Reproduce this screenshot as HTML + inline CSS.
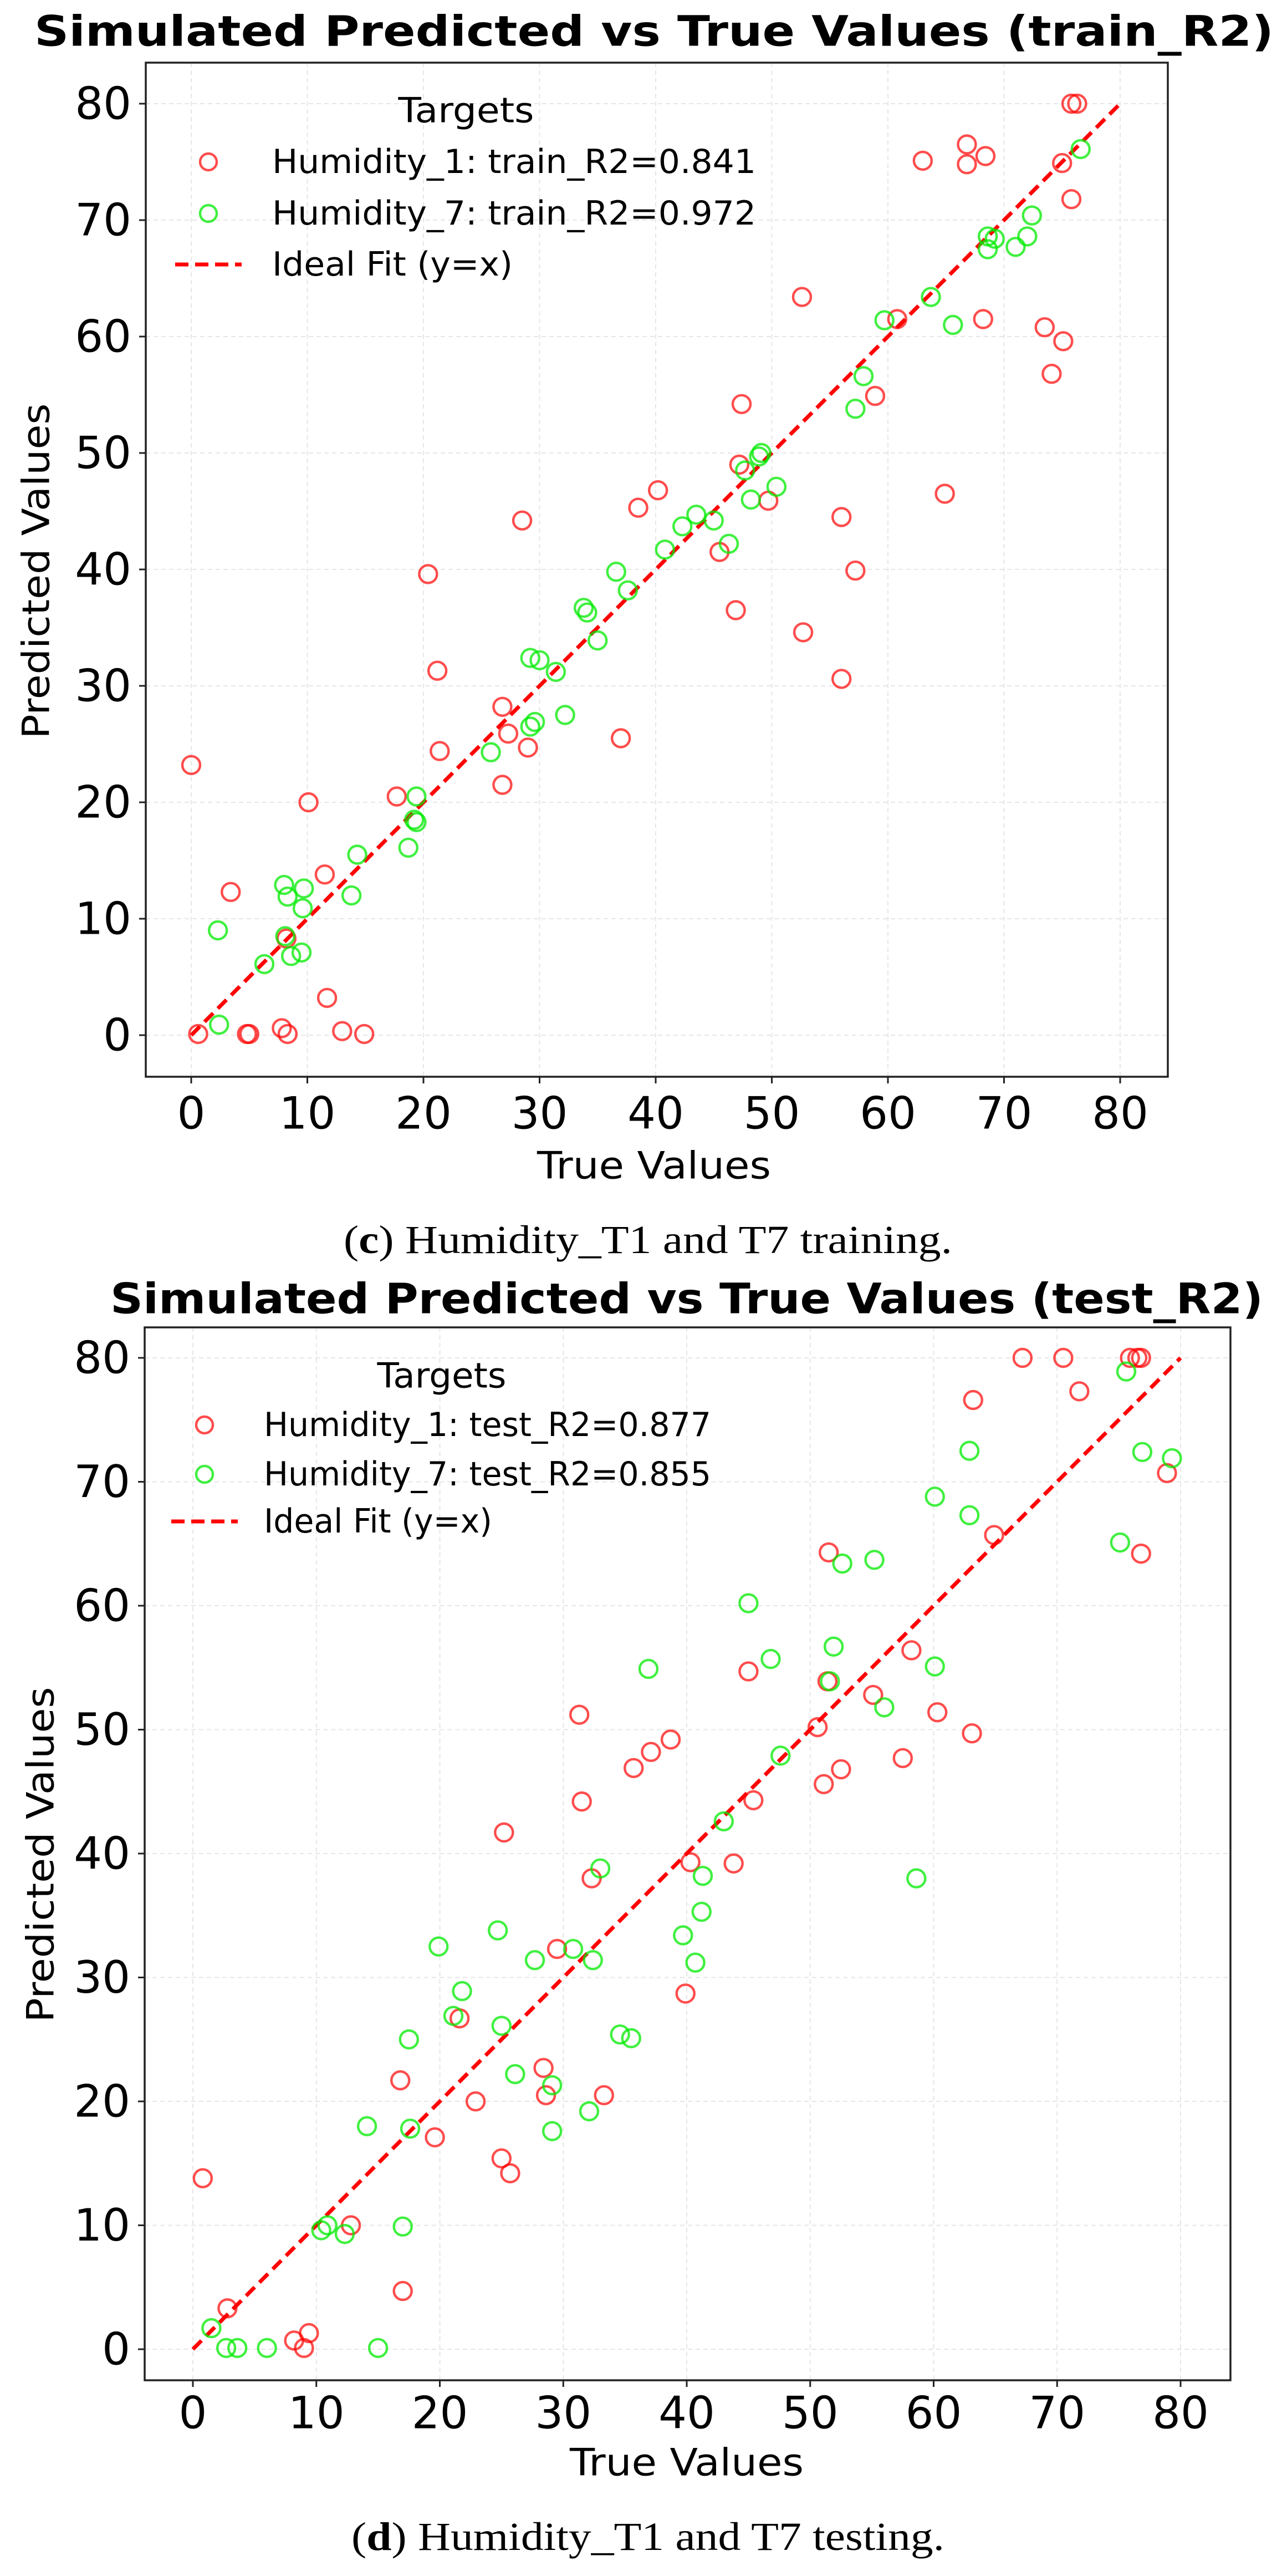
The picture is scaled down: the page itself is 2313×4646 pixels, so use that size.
<!DOCTYPE html>
<html><head><meta charset="utf-8"><style>
html,body{margin:0;padding:0;background:#fff;}
svg{display:block;}
</style></head><body>
<svg id="fig" xmlns="http://www.w3.org/2000/svg" width="2313" height="4646" viewBox="0 0 2313 4646">
<rect x="0" y="0" width="2313" height="4646" fill="#fff"/>
</svg>
<script>
const xTicks=[0,10,20,30,40,50,60,70,80];
const yTicks=[0,10,20,30,40,50,60,70,80];
const trainH1X=[75.8,76.3,63,66.8,66.8,68.4,75,75.8,52.6,68.2,73.5,75.1,74.1,58.9,47.4,60.8,47.2,49.7,45.5,64.9,56,57.2,40.2,38.5,28.5,20.4,46.9,52.7,56,37,21.2,21.4,26.8,26.8,27.3,29,17.7,0,10.1,3.4,11.5,11.7,0.6,4.8,5,7.8,8.3,13,14.9,8.2];
const trainH1Y=[80,80,75.1,76.5,74.8,75.5,74.9,71.8,63.4,61.5,60.8,59.6,56.8,54.9,54.2,61.5,49,45.9,41.5,46.5,44.5,39.9,46.8,45.3,44.2,39.6,36.5,34.6,30.6,25.5,31.3,24.4,28.2,21.5,25.9,24.7,20.5,23.2,20,12.3,13.8,3.2,0.1,0.1,0.1,0.6,0.1,0.35,0.1,8.3];
const trainH7X=[76.6,72.4,72,71,68.6,69.2,68.6,63.7,65.6,59.7,57.9,57.2,49.1,48.9,47.7,50.4,48.2,43.5,45,42.3,46.3,40.8,36.6,37.6,33.8,34.1,35,29.2,30,31.4,32.2,29.6,29.2,25.8,19.4,19.2,19.4,18.7,14.3,13.8,8,8.3,9.7,9.6,8.1,8.6,9.5,6.3,2.3,2.4];
const trainH7Y=[76.1,70.4,68.6,67.7,68.6,68.4,67.5,63.4,61,61.4,56.6,53.8,50,49.7,48.5,47.1,46,44.7,44.2,43.7,42.2,41.7,39.8,38.2,36.7,36.3,33.9,32.4,32.2,31.2,27.5,26.9,26.5,24.3,20.5,18.5,18.3,16.1,15.5,12,12.9,11.9,12.6,10.9,8.5,6.8,7.1,6.1,9,0.9];
const testH1X=[67.2,70.5,75.9,76.5,76.8,71.8,63.2,78.9,76.8,64.9,51.5,58.2,45,60.3,63.1,55.1,57.5,52.5,51.1,50.6,51.4,31.3,38.7,37.1,35.7,31.5,45.4,40.3,43.8,32.3,25.2,29.5,39.9,21.6,28.4,28.6,33.3,22.9,16.8,19.6,25,25.7,0.8,12.8,17,2.8,9.4,8.2,9];
const testH1Y=[80,80,80,80,80,77.3,76.6,70.7,64.2,65.7,64.3,56.4,54.7,51.4,49.7,52.8,47.7,46.8,45.6,50.2,53.9,51.2,49.2,48.2,46.9,44.2,44.3,39.3,39.2,38,41.7,32.3,28.7,26.7,22.7,20.5,20.5,20,21.7,17.1,15.4,14.2,13.8,10,4.7,3.3,1.3,0.7,0.1];
const testH7X=[75.6,62.9,76.9,79.3,60.1,62.9,75.1,55.2,52.6,45,51.9,46.8,60.1,36.9,51.6,56,47.6,43,33,41.3,41.2,39.7,40.7,58.6,19.9,24.7,30.8,27.7,32.4,21.8,21.1,25,34.6,35.5,17.5,26.1,29.1,29.1,32.1,17.6,14.1,10.9,10.4,12.3,17,1.5,2.7,3.6,6,15];
const testH7Y=[78.9,72.5,72.4,71.9,68.8,67.3,65.1,63.7,63.4,60.2,56.7,55.7,55.1,54.9,53.9,51.8,47.9,42.6,38.8,38.2,35.3,33.4,31.2,38,32.5,33.8,32.3,31.4,31.4,28.9,26.9,26.1,25.4,25.1,25,22.2,21.3,17.6,19.2,17.8,18,10,9.6,9.3,9.9,1.7,0.1,0.1,0.1,0.1];
const idealLine=[0,80];

const NS='http://www.w3.org/2000/svg';
const svg=document.getElementById('fig');
function mk(tag,attrs,parent,text){const e=document.createElementNS(NS,tag);for(const k in attrs)e.setAttribute(k,attrs[k]);if(text!==undefined)e.textContent=text;(parent||svg).appendChild(e);return e;}

function chart(cfg){
  const g=mk('g',{});
  
  
  const sx=v=>cfg.x0+(cfg.x80-cfg.x0)*v/80;
  const sy=v=>cfg.y0+(cfg.y80-cfg.y0)*v/80;
  const t=mk('text',{x:cfg.titleX,y:cfg.titleY,'text-anchor':'middle','dominant-baseline':'central','font-family':'DejaVu Sans, Liberation Sans, sans-serif','font-weight':'bold','font-size':76,textLength:cfg.titleW,lengthAdjust:'spacingAndGlyphs'},g,cfg.title);
  
  
  xTicks.forEach(v=>{
    const l=mk('line',{x1:sx(v),x2:sx(v),y1:cfg.top,y2:cfg.bottom,stroke:'#e6e6e6','stroke-width':2,'stroke-dasharray':'8,6'},g);
    
    
  });
  yTicks.forEach(v=>{
    const l=mk('line',{x1:cfg.left,x2:cfg.right,y1:sy(v),y2:sy(v),stroke:'#e6e6e6','stroke-width':2,'stroke-dasharray':'8,6'},g);
    
    
  });
  const ideal=mk('line',{x1:sx(idealLine[0]),y1:sy(idealLine[0]),x2:sx(idealLine[1]),y2:sy(idealLine[1]),stroke:'#ff0000','stroke-width':7,'stroke-dasharray':'22,12'},g);
  
  
  function series(xs,ys,color,name){
    const sg=mk('g',{},g);
    
    
    xs.forEach((x,i)=>{
      const c=mk('circle',{cx:sx(x),cy:sy(ys[i]),r:16,fill:'none',stroke:color,'stroke-width':4.4},sg);
      
      
    });
  }
  series(cfg.h1x,cfg.h1y,'rgba(255,0,0,0.7)','humidity-1-series');
  series(cfg.h7x,cfg.h7y,'rgba(0,235,0,0.75)','humidity-7-series');
  const fr=mk('rect',{x:cfg.left,y:cfg.top,width:cfg.right-cfg.left,height:cfg.bottom-cfg.top,fill:'none',stroke:'#222','stroke-width':3.5},g);
  
  
  xTicks.forEach(v=>{
    mk('line',{x1:sx(v),x2:sx(v),y1:cfg.bottom,y2:cfg.bottom+12,stroke:'#222','stroke-width':3},g);
    const tl=mk('text',{x:sx(v),y:cfg.xTickY,'text-anchor':'middle','dominant-baseline':'central','font-family':'DejaVu Sans, Liberation Sans, sans-serif','font-size':80},g,String(v));
    
    
  });
  yTicks.forEach(v=>{
    mk('line',{x1:cfg.left-12,x2:cfg.left,y1:sy(v),y2:sy(v),stroke:'#222','stroke-width':3},g);
    const tl=mk('text',{x:cfg.left-26,y:sy(v),'text-anchor':'end','dominant-baseline':'central','font-family':'DejaVu Sans, Liberation Sans, sans-serif','font-size':80},g,String(v));
    
    
  });
  const xl=mk('text',{x:cfg.xLabelX,y:cfg.xLabelY,'text-anchor':'middle','dominant-baseline':'central','font-family':'DejaVu Sans, Liberation Sans, sans-serif','font-size':68,textLength:422,lengthAdjust:'spacingAndGlyphs'},g,'True Values');
  
  
  const yl=mk('text',{x:0,y:0,transform:`translate(${cfg.yLabelX},${cfg.yLabelY}) rotate(-90)`,'text-anchor':'middle','dominant-baseline':'central','font-family':'DejaVu Sans, Liberation Sans, sans-serif','font-size':68,textLength:605,lengthAdjust:'spacingAndGlyphs'},g,'Predicted Values');
  
  
  const lg=mk('g',{},g);
  
  
  const lt=mk('text',{x:cfg.legTitleX,y:cfg.legRows[0]-(cfg.legRows[1]-cfg.legRows[0]),'text-anchor':'middle','dominant-baseline':'central','font-family':'DejaVu Sans, Liberation Sans, sans-serif','font-size':62,textLength:cfg.legTitleW,lengthAdjust:'spacingAndGlyphs'},lg,'Targets');
  
  
  const entries=[[cfg.leg1,'rgba(255,0,0,0.7)','circle',cfg.legW1],[cfg.leg2,'rgba(0,235,0,0.75)','circle',cfg.legW1],['Ideal Fit (y=x)','#ff0000','line',cfg.legW3]];
  entries.forEach((e,i)=>{
    const y=cfg.legRows[i];
    const eg=mk('g',{},lg);
    
    
    if(e[2]==='circle') mk('circle',{cx:cfg.legMarkX,cy:y,r:15,fill:'none',stroke:e[1],'stroke-width':4.4},eg);
    else mk('line',{x1:cfg.legMarkX-60,x2:cfg.legMarkX+60,y1:y,y2:y,stroke:e[1],'stroke-width':7,'stroke-dasharray':'24,12'},eg);
    mk('text',{x:cfg.legTextX,y:y,'dominant-baseline':'central','font-family':'DejaVu Sans, Liberation Sans, sans-serif','font-size':60,textLength:e[3],lengthAdjust:'spacingAndGlyphs'},eg,e[0]);
  });
  const cap=mk('text',{x:cfg.capX,y:cfg.capY,'text-anchor':'middle','dominant-baseline':'central','font-family':'Liberation Serif, serif','font-size':72,textLength:cfg.capW,lengthAdjust:'spacingAndGlyphs'},g);
  
  
  mk('tspan',{},cap,'(');
  mk('tspan',{'font-weight':'bold'},cap,cfg.capLetter);
  mk('tspan',{},cap,') Humidity_T1 and T7 '+cfg.capWord+'.');
}

chart({name:'train-chart',title:'Simulated Predicted vs True Values (train_R2)',titleX:1180,titleY:56,titleW:2236,
  left:263,right:2107,top:113,bottom:1942,x0:345,x80:2021,y0:1867,y80:187,xTickY:2008,xLabelX:1180,xLabelY:2103,
  yLabelX:66,yLabelY:1030,legTitleX:841,legRows:[292,385,477],legMarkX:376,legTextX:491,legTitleW:245,
  leg1:'Humidity_1: train_R2=0.841',leg2:'Humidity_7: train_R2=0.972',legW1:873,legW3:434,
  h1x:trainH1X,h1y:trainH1Y,h7x:trainH7X,h7y:trainH7Y,capX:1169,capY:2236,capW:1098,capLetter:'c',capWord:'training'});
chart({name:'test-chart',title:'Simulated Predicted vs True Values (test_R2)',titleX:1239,titleY:2342,titleW:2080,
  left:261,right:2220,top:2394,bottom:4293,x0:348,x80:2130,y0:4237,y80:2449,xTickY:4352,xLabelX:1239,xLabelY:4442,
  yLabelX:74,yLabelY:3345,legTitleX:797,legRows:[2570,2659,2744],legMarkX:369,legTextX:476,legTitleW:233,
  leg1:'Humidity_1: test_R2=0.877',leg2:'Humidity_7: test_R2=0.855',legW1:807,legW3:412,
  h1x:testH1X,h1y:testH1Y,h7x:testH7X,h7y:testH7Y,capX:1169,capY:4575,capW:1070,capLetter:'d',capWord:'testing'});
</script>
</body></html>
